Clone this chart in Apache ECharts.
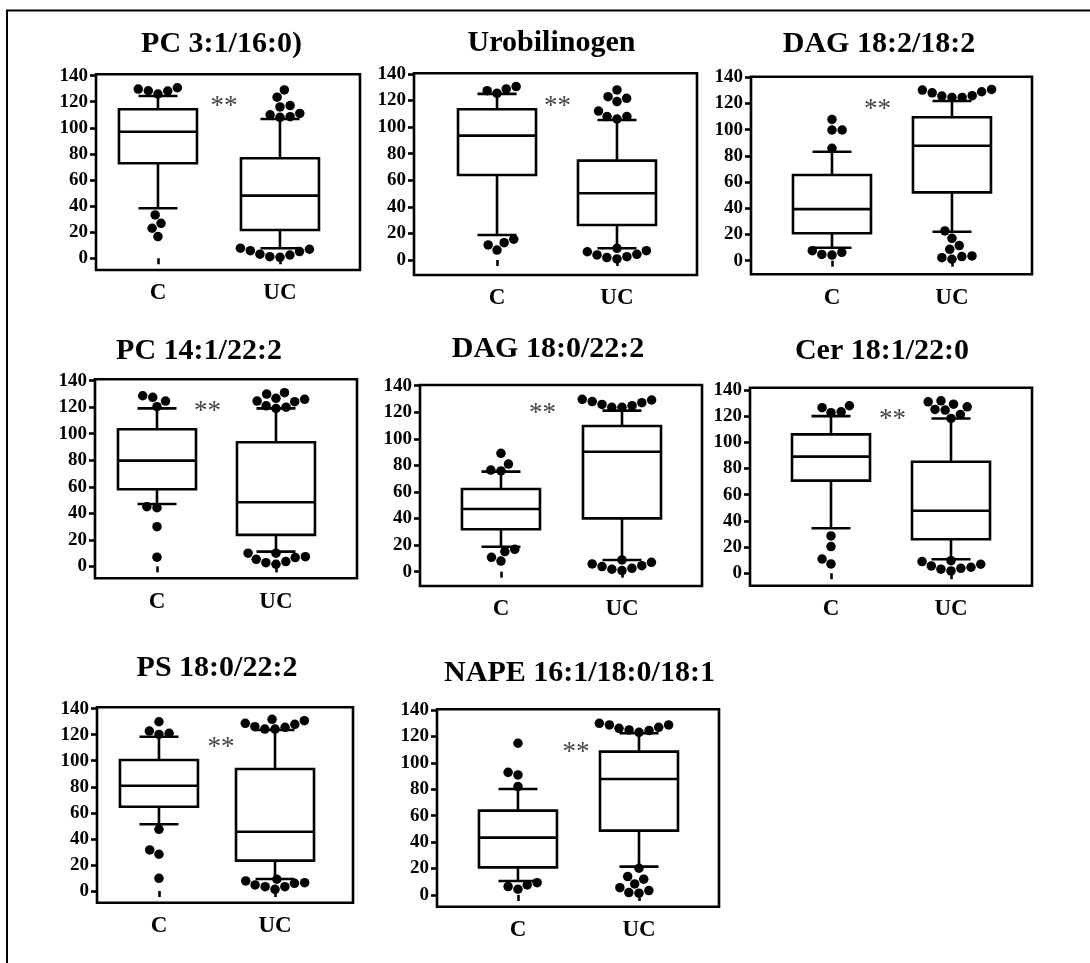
<!DOCTYPE html>
<html>
<head>
<meta charset="utf-8">
<script src="https://cdn.jsdelivr.net/npm/echarts@6/dist/echarts.min.js"></script>
<style>
  html, body { margin: 0; padding: 0; background: #fff; }
  #chart { width: 1090px; height: 963px; }
</style>
</head>
<body>
<div id="chart"></div>
<script>
// ---- data ----
const groups = ['C', 'UC'];
const yTicks = [0, 20, 40, 60, 80, 100, 120, 140];
const titles = [
  'PC 3:1/16:0)', 'Urobilinogen', 'DAG 18:2/18:2',
  'PC 14:1/22:2', 'DAG 18:0/22:2', 'Cer 18:1/22:0',
  'PS 18:0/22:2', 'NAPE 16:1/18:0/18:1'
];
const significance = ['**', '**', '**', '**', '**', '**', '**', '**'];

// box statistics: [lower whisker, Q1, median, Q3, upper whisker]
const boxC = [
  [38.3, 72.8, 97.0, 114.2, 124.4],
  [18.8, 64.0, 93.6, 113.4, 125.0],
  [9.9, 20.9, 39.4, 65.4, 83.2],
  [47.0, 58.1, 79.7, 103.3, 119.1],
  [18.8, 31.9, 47.2, 62.2, 75.3],
  [34.4, 70.8, 89.1, 106.1, 120.1],
  [51.2, 64.7, 80.8, 100.5, 118.4],
  [10.6, 20.9, 43.4, 63.8, 80.2]
];
const boxUC = [
  [7.7, 21.7, 48.0, 76.6, 106.7],
  [8.8, 26.3, 50.2, 74.8, 105.4],
  [22.1, 52.2, 87.8, 109.5, 121.9],
  [11.1, 23.7, 48.3, 93.5, 119.1],
  [8.8, 40.1, 90.3, 109.6, 121.2],
  [10.7, 26.0, 47.8, 85.2, 118.3],
  [9.2, 23.3, 45.5, 93.6, 123.6],
  [21.4, 48.7, 87.8, 108.5, 122.4]
];
// points beyond the whiskers
const outliersC = [
  [129.7, 128.2, 125.9, 128.4, 130.7, 33.2, 26.8, 23.0, 16.6],
  [130.5, 127.4, 125.4, 128.7, 13.0, 7.5, 11.3, 15.6],
  [107.9, 99.8, 99.8, 85.8, 6.4, 4.3, 4.8, 7.6],
  [128.6, 124.6, 120.4, 127.4, 44.2, 45.0, 29.9, 6.9],
  [89.1, 76.5, 75.8, 81.0, 15.1, 8.0, 10.8, 16.8],
  [126.5, 122.7, 123.4, 128.0, 28.5, 20.4, 10.9, 7.1],
  [129.9, 121.0, 120.2, 122.8, 47.3, 31.5, 28.2, 9.7],
  [114.8, 90.8, 92.8, 82.0, 7.6, 4.3, 6.3, 9.3]
];
const outliersUC = [
  [129.0, 123.5, 117.0, 116.0, 111.0, 108.0, 108.5, 110.0, 6.9, 5.1, 2.5, 0.7, 1.2, 3.1, 5.8, 7.7],
  [122.9, 119.2, 121.7, 128.0, 112.1, 107.9, 106.1, 107.9, 7.0, 4.3, 2.5, 0.8, 1.8, 3.8, 6.2, 8.8],
  [130.8, 129.0, 126.0, 124.7, 124.7, 125.7, 128.2, 130.3, 22.7, 17.1, 11.5, 8.7, 3.1, 1.1, 2.3, 3.6],
  [126.7, 124.6, 129.9, 130.9, 121.0, 119.0, 120.0, 124.1, 125.9, 9.9, 6.6, 3.6, 1.6, 2.8, 5.3, 7.3, 9.9],
  [129.7, 128.0, 125.9, 123.7, 123.7, 124.9, 127.2, 129.2, 7.0, 4.5, 2.5, 0.8, 1.8, 3.8, 5.8, 8.8],
  [125.2, 131.8, 121.4, 129.2, 124.7, 131.0, 127.2, 118.3, 8.9, 5.6, 3.8, 1.8, 3.1, 4.6, 6.9, 9.6],
  [131.8, 128.7, 126.1, 124.3, 124.3, 125.6, 127.9, 130.7, 7.7, 5.9, 3.3, 1.3, 3.3, 4.6, 6.4, 9.0],
  [128.7, 126.9, 124.9, 123.1, 124.4, 126.1, 128.7, 129.9, 20.2, 13.9, 11.9, 8.3, 3.3, 1.3, 1.8, 5.5]
];

// ---- layout (pixels) ----
// frame box of every panel, its axis ranges, title and star placement
const panels = [
  { l: 96,  t: 74.3,  r: 360,  b: 270,   x: [0.492, 2.656], y: [-9, 141],     title: [221.5, 29.6], star: [224, 102.3] },
  { l: 414, t: 73.3,  r: 697,  b: 275,   x: [0.308, 2.667], y: [-11.3, 140.5], title: [551.5, 27.9], star: [557.5, 101.7] },
  { l: 751, t: 76.7,  r: 1032, b: 274.3, x: [0.325, 2.667], y: [-10.4, 140.5], title: [879, 29.6],   star: [877.5, 104.5] },
  { l: 95,  t: 379.3, r: 357,  b: 578.3, x: [0.479, 2.681], y: [-9, 141],     title: [199, 336.3],  star: [207.5, 407.3] },
  { l: 420, t: 385,   r: 702,  b: 586,   x: [0.331, 2.661], y: [-10.8, 140.5], title: [548, 334.6],  star: [542.5, 409] },
  { l: 750, t: 387.7, r: 1032, b: 585.7, x: [0.325, 2.675], y: [-9.5, 141.8], title: [882, 336.3],  star: [892.5, 415] },
  { l: 97,  t: 707.3, r: 353,  b: 902.7, x: [0.466, 2.672], y: [-9, 141],     title: [217, 652.9],  star: [221, 743.3] },
  { l: 437, t: 709.3, r: 719,  b: 906.7, x: [0.331, 2.661], y: [-8.9, 140.5], title: [579.5, 657.9], star: [576, 747.7] }
];

const FONT = '"Liberation Serif", "Times New Roman", serif';
const LINE_W = 2.6;
const BOX_W = 78;   // px
const CAP_W = 39;   // px
const DOT = 9.5;    // px
const GAP = 10.2;   // px, centre spacing of touching dots

// Simple beeswarm: place points (sorted by value) as close to the
// category centre as possible without overlapping, in pixel space.
function swarm(values, pxPerY) {
  const order = values.map((v, i) => i).sort((a, b) => values[a] - values[b]);
  const placed = [];
  const offs = new Array(values.length);
  let lastSide = 1;
  for (const i of order) {
    const y = values[i] * pxPerY;
    const iv = [];
    for (const p of placed) {
      const dy = Math.abs(p.y - y);
      if (dy < GAP) {
        const w = Math.sqrt(GAP * GAP - dy * dy);
        iv.push([p.x - w, p.x + w]);
      }
    }
    const cands = [0];
    iv.forEach(([a, b]) => cands.push(a, b));
    const valid = cands.filter(c => !iv.some(([a, b]) => c > a + 1e-6 && c < b - 1e-6));
    valid.sort((a, b) => {
      const d = Math.abs(a) - Math.abs(b);
      if (Math.abs(d) > 1e-6) return d;
      return (Math.sign(a) === -lastSide ? -1 : 1) - (Math.sign(b) === -lastSide ? -1 : 1);
    });
    const best = valid[0];
    if (Math.abs(best) > 1e-6) lastSide = Math.sign(best);
    offs[i] = best;
    placed.push({ x: best, y });
  }
  return offs;
}

function renderBox(params, api) {
  const x = api.value(0);
  const pLw = api.coord([x, api.value(1)]);
  const pQ1 = api.coord([x, api.value(2)]);
  const pMed = api.coord([x, api.value(3)]);
  const pQ3 = api.coord([x, api.value(4)]);
  const pUw = api.coord([x, api.value(5)]);
  const cx = pMed[0];
  const hb = BOX_W / 2, hc = CAP_W / 2;
  const st = { stroke: '#000', lineWidth: LINE_W, fill: null };
  const ln = (x1, y1, x2, y2) => ({ type: 'line', shape: { x1, y1, x2, y2 }, style: st });
  return {
    type: 'group',
    children: [
      ln(cx, pQ3[1], cx, pUw[1]),
      ln(cx, pQ1[1], cx, pLw[1]),
      ln(cx - hc, pUw[1], cx + hc, pUw[1]),
      ln(cx - hc, pLw[1], cx + hc, pLw[1]),
      { type: 'rect', shape: { x: cx - hb, y: pQ3[1], width: 2 * hb, height: pQ1[1] - pQ3[1] },
        style: { stroke: '#000', lineWidth: LINE_W, fill: '#fff' } },
      ln(cx - hb, pMed[1], cx + hb, pMed[1])
    ]
  };
}

const grid = [], xAxis = [], yAxis = [], series = [], title = [], graphic = [];

panels.forEach((p, i) => {
  const w = p.r - p.l, h = p.b - p.t;
  grid.push({ left: p.l, top: p.t, width: w, height: h, show: true,
    borderColor: '#000', borderWidth: LINE_W, backgroundColor: 'transparent' });

  xAxis.push({
    gridIndex: i, type: 'value', min: p.x[0], max: p.x[1],
    axisLine: { show: false }, splitLine: { show: false },
    axisTick: { show: true, customValues: [1, 2], length: 6, lineStyle: { color: '#000', width: LINE_W } },
    axisLabel: { customValues: [1, 2], formatter: v => groups[Math.round(v) - 1], margin: 12,
      color: '#000', fontFamily: FONT, fontWeight: 'bold', fontSize: 23 }
  });
  yAxis.push({
    gridIndex: i, type: 'value', min: p.y[0], max: p.y[1],
    axisLine: { show: false }, splitLine: { show: false },
    axisTick: { show: true, customValues: yTicks, length: 6, lineStyle: { color: '#000', width: LINE_W } },
    axisLabel: { customValues: yTicks, margin: 8, color: '#000', fontFamily: FONT,
      fontWeight: 'bold', fontSize: 19 }
  });

  series.push({
    type: 'custom', xAxisIndex: i, yAxisIndex: i, renderItem: renderBox, z: 2,
    data: [[1].concat(boxC[i]), [2].concat(boxUC[i])]
  });

  const pxPerX = w / (p.x[1] - p.x[0]);
  const pxPerY = h / (p.y[1] - p.y[0]);
  const pts = [];
  [outliersC[i], outliersUC[i]].forEach((vals, g) => {
    const offs = swarm(vals, pxPerY);
    vals.forEach((v, k) => pts.push([g + 1 + offs[k] / pxPerX, v]));
  });
  series.push({
    type: 'scatter', xAxisIndex: i, yAxisIndex: i, z: 3, symbol: 'circle', symbolSize: DOT,
    itemStyle: { color: '#000', opacity: 1 }, silent: true, data: pts
  });

  title.push({
    text: titles[i], left: p.title[0], top: p.title[1], textAlign: 'center', padding: 0,
    textStyle: { fontFamily: FONT, fontWeight: 'bold', fontSize: 30, color: '#000' }
  });

  graphic.push({
    type: 'text', x: p.star[0], y: p.star[1] + 5,
    style: { text: significance[i], fill: '#444', font: '27px ' + FONT, align: 'center', verticalAlign: 'middle' }
  });
});

// outer frame edges
graphic.push({
  type: 'polyline',
  shape: { points: [[7, 963], [7, 10.5], [1090, 10.5]] },
  style: { stroke: '#000', lineWidth: 2, fill: null }
});

const chart = echarts.init(document.getElementById('chart'), null, { renderer: 'canvas' });
chart.setOption({
  animation: false,
  backgroundColor: '#fff',
  title, grid, xAxis, yAxis, series, graphic
});
</script>
</body>
</html>
